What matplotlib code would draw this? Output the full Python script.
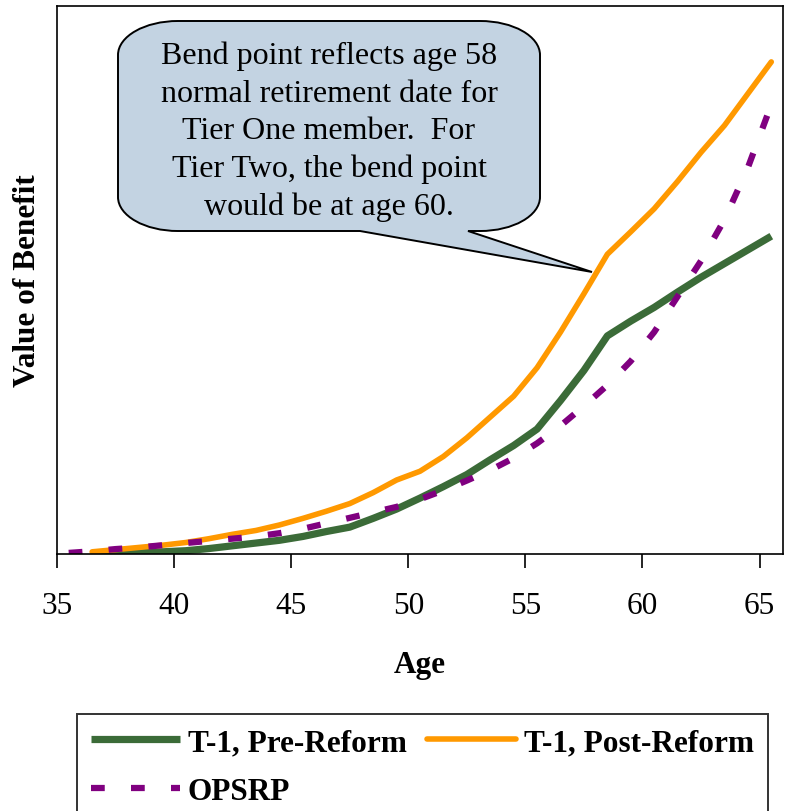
import matplotlib
matplotlib.use("Agg")
import matplotlib.pyplot as plt
from matplotlib.path import Path
from matplotlib.patches import PathPatch

plt.rcParams['font.family'] = ['Liberation Serif', 'DejaVu Serif']

# ages (yearly points)
ages_t1 = [36.5 + i for i in range(30)]
ages_op = [35.5 + i for i in range(31)]

pre_reform = [0.0, 0.1, 0.2, 0.4, 0.6, 1.0, 1.5, 2.0, 2.5, 3.2,
              4.1, 4.9, 6.5, 8.2, 10.2, 12.3, 14.5, 17.2, 19.8, 22.8,
              28.0, 33.5, 39.8, 42.5, 45.0, 47.8, 50.5, 53.0, 55.5, 58.0]
post_reform = [0.4, 0.8, 1.2, 1.6, 2.1, 2.8, 3.6, 4.3, 5.3, 6.5,
               7.8, 9.2, 11.2, 13.5, 15.1, 17.8, 21.2, 25.0, 28.8, 34.0,
               40.5, 47.5, 54.7, 58.8, 63.0, 68.0, 73.3, 78.2, 84.0, 89.8]
opsrp = [0.2, 0.5, 0.9, 1.2, 1.6, 2.0, 2.4, 2.8, 3.2, 3.8,
         4.6, 5.6, 6.6, 7.6, 8.6, 10.0, 11.6, 13.4, 15.3, 17.5,
         20.2, 23.4, 27.0, 30.8, 35.2, 40.5, 47.0, 53.5, 61.0, 70.5, 82.0]

xticks = [35, 40, 45, 50, 55, 60, 65]
callout_text = ("Bend point reflects age 58\nnormal retirement date for\n"
                "Tier One member.  For\nTier Two, the bend point\nwould be at age 60.")

W, H = 785, 812
fig = plt.figure(figsize=(W / 100, H / 100), dpi=100)
ax = fig.add_axes([57 / W, 1 - 555 / H, (783 - 57) / W, (555 - 7) / H])

l_pre, = ax.plot(ages_t1, pre_reform, color='#3b6b38', lw=5.2, solid_capstyle='butt')
l_post, = ax.plot(ages_t1, post_reform, color='#ff9900', lw=4.0, solid_capstyle='round')
l_op, = ax.plot(ages_op, opsrp, color='#800080', lw=4.5, linestyle=(0, (2.2, 4.2)))

ax.set_xlim(35, 66)
ax.set_ylim(0, 100)
ax.set_xticks(xticks)
ax.set_yticks([])
ax.tick_params(axis='x', direction='out', length=10, width=1.2, labelsize=22.5, pad=17)
for s in ax.spines.values():
    s.set_linewidth(1.2)
ax.set_xlabel('Age', fontsize=22.5, fontweight='bold', labelpad=21)
ax.set_ylabel('Value of Benefit', fontsize=22.5, fontweight='bold', labelpad=11)


# callout shape in figure pixel coords (top-left origin)
def fp(x, y):
    return (x / W, 1 - y / H)


L, R, T, B = 118, 540, 22, 232
rx, ry = 60, 34
k = 0.5523
pts = [
    (L + rx, T), (R - rx, T),
    (R - rx + k * rx, T), (R, T + ry - k * ry), (R, T + ry),
    (R, B - ry),
    (R, B - ry + k * ry), (R - rx + k * rx, B), (R - rx, B),
    (468, B), (592, 273), (360, B),
    (L + rx, B),
    (L + rx - k * rx, B), (L, B - ry + k * ry), (L, B - ry),
    (L, T + ry),
    (L, T + ry - k * ry), (L + rx - k * rx, T), (L + rx, T),
    (L + rx, T),
]
codes = [Path.MOVETO, Path.LINETO,
         Path.CURVE4, Path.CURVE4, Path.CURVE4,
         Path.LINETO,
         Path.CURVE4, Path.CURVE4, Path.CURVE4,
         Path.LINETO, Path.LINETO, Path.LINETO,
         Path.LINETO,
         Path.CURVE4, Path.CURVE4, Path.CURVE4,
         Path.LINETO,
         Path.CURVE4, Path.CURVE4, Path.CURVE4,
         Path.CLOSEPOLY]
callout = PathPatch(Path([fp(*p) for p in pts], codes), transform=fig.transFigure,
                    facecolor='#c3d3e2', edgecolor='black', lw=1.4, zorder=5)
fig.patches.append(callout)
fig.text(329 / W, 1 - 132 / H, callout_text, ha='center', va='center',
         fontsize=23, linespacing=1.38, zorder=6)

leg = fig.legend([l_pre, l_op, l_post], ['T-1, Pre-Reform', 'OPSRP', 'T-1, Post-Reform'],
                 ncol=2, loc='upper left', bbox_to_anchor=(77 / W, 1 - 715 / H),
                 prop={'weight': 'bold', 'size': 22.5}, frameon=True, fancybox=False,
                 edgecolor='black', handlelength=2.85, handletextpad=0.25,
                 columnspacing=0.65, borderpad=0.45, labelspacing=0.65,
                 borderaxespad=0)
leg.get_frame().set_linewidth(1.4)

fig.savefig('out.png', dpi=100)
